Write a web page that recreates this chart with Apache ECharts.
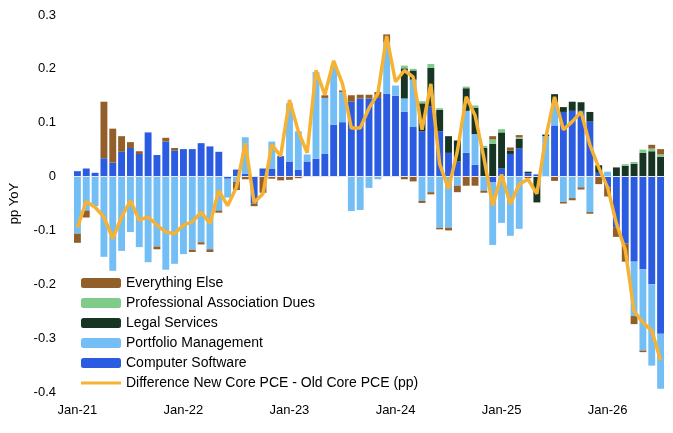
<!DOCTYPE html>
<html>
<head>
<meta charset="utf-8">
<script src="https://cdn.jsdelivr.net/npm/echarts@6/dist/echarts.min.js"></script>
<style>html,body{margin:0;padding:0;background:#fff}#chart{width:673px;height:433px}</style>
</head>
<body>
<div id="chart"></div>
<script>
// months Jan-21 .. Jul-26
var months = [];
var mn = ['Jan','Feb','Mar','Apr','May','Jun','Jul','Aug','Sep','Oct','Nov','Dec'];
for (var y = 21; y <= 26; y++) {
    for (var m = 0; m < 12; m++) {
        if (y === 26 && m > 6) break;
        months.push(mn[m] + '-' + y);
    }
}

var computerSoftware = [0.010,0.015,0.007,0.034,0.026,0.046,0.053,0.042,0.082,0.040,0.065,0.048,0.051,0.051,0.062,0.056,0.046,-0.004,0.013,0.005,-0.050,0.015,0.015,0.038,0.028,0.013,0.028,0.033,0.042,0.096,0.101,0.139,0.145,0.145,0.146,0.154,0.150,0.120,0.092,0.084,0.130,0.084,0.044,0.028,0.044,0.022,0,-0.011,0.015,0.042,0.052,0.006,0.004,0,0.095,0.120,0.122,0.122,0.102,0.007,-0.020,-0.094,-0.124,-0.158,-0.172,-0.200,-0.292];
var portfolioMgmt = [-0.106,-0.063,-0.055,-0.149,-0.175,-0.138,-0.103,-0.131,-0.159,-0.130,-0.173,-0.162,-0.144,-0.136,-0.122,-0.135,-0.063,-0.035,-0.010,0.068,0,0,0.050,0,0.108,0.071,0.013,0.161,0.104,0.110,0.056,-0.064,-0.062,-0.021,-0.005,0.095,0.019,0.025,0.088,-0.045,-0.029,-0.095,-0.095,-0.017,0.078,0.057,-0.026,-0.116,-0.086,-0.110,-0.097,0,0,0.075,0.041,-0.047,-0.040,-0.020,-0.066,0,0.009,0,0,-0.101,-0.151,-0.151,-0.102];
var legalServices = [0,0,0,0,0,0,0,0,0,0,0,0,0,0,0,0,0,0,0,0,0,0,0,0,0,0,0,0,0,0,0,0,0,0,0,0,0,0.056,0.017,0.052,0.072,0.040,0.031,0.039,0.042,0.049,0.053,0.061,0.067,0.006,0.018,0.003,-0.048,0.003,0.017,0.009,0.017,0.016,0.018,0.014,0,0.017,0.020,0.024,0.044,0.047,0.037];
var profDues = [0,0,0,0,0,0,0,0,0,0,0,0,0,0,0,0,0,0,0,0,0,0,0,0,0,0,0,0,0,0,0,0,0,0,0,0,0,0.005,0.003,0.004,0.007,0.003,0,0,0.003,0.004,0.004,0.008,0.006,0,0.003,0,0,0,0,0,0,0,0,0,0,0,0.003,0.003,0.006,0.005,0.004];
var everythingElse = [-0.017,-0.013,0,0.105,0.063,0.029,0.011,0.005,0,-0.005,0.007,0.005,0,-0.004,-0.004,-0.005,-0.004,0,-0.015,-0.005,-0.005,-0.030,-0.004,-0.007,-0.006,-0.003,0,0,0.005,0,0.003,0.012,0.007,0.007,0.011,0.015,0,-0.005,-0.009,-0.004,-0.004,-0.003,-0.005,-0.012,-0.017,-0.017,-0.004,0.006,0,0.006,0.004,-0.003,0,0,-0.008,-0.003,-0.004,-0.004,-0.003,-0.014,-0.017,-0.018,-0.034,-0.015,-0.003,0.007,0.010];
var diffLine = [-0.095,-0.046,-0.057,-0.075,-0.115,-0.075,-0.045,-0.081,-0.075,-0.090,-0.103,-0.106,-0.090,-0.084,-0.066,-0.087,-0.026,-0.054,-0.020,0.062,-0.048,-0.032,0.059,0.038,0.142,0.084,0.044,0.197,0.152,0.215,0.172,0.090,0.090,0.127,0.154,0.261,0.176,0.197,0.185,0.087,0.172,0.023,-0.023,0.047,0.148,0.114,0.035,-0.054,0.004,-0.051,-0.014,-0.005,-0.032,0.072,0.148,0.087,0.102,0.120,0.059,0.017,-0.020,-0.087,-0.136,-0.250,-0.271,-0.286,-0.341];

var chart = echarts.init(document.getElementById('chart'));
function bar(name, data, color) {
    return {name: name, type: 'bar', stack: 'pce', data: data, barCategoryGap: '22%',
        itemStyle: {color: color}};
}
var option = {
    animation: false,
    textStyle: {fontFamily: 'Liberation Sans, Arial, sans-serif'},
    grid: {left: 72, right: 8, top: 15, bottom: 41},
    legend: {
        orient: 'vertical', left: 76, top: 271, itemGap: 6, itemWidth: 40, itemHeight: 10,
        textStyle: {fontSize: 14, color: '#000'},
        data: ['Everything Else', 'Professional Association Dues', 'Legal Services',
            'Portfolio Management', 'Computer Software',
            {name: 'Difference New Core PCE - Old Core PCE (pp)', icon: 'path://M0,0 L40,0 L40,3 L0,3 Z'}]
    },
    xAxis: {
        type: 'category', data: months,
        axisLine: {onZero: false, show: false},
        axisTick: {show: false},
        axisLabel: {interval: 11, fontSize: 13, color: '#000', margin: 12}
    },
    yAxis: {
        type: 'value', min: -0.4, max: 0.3, interval: 0.1,
        name: 'pp YoY', nameLocation: 'middle', nameGap: 52, nameRotate: 90,
        nameTextStyle: {fontSize: 13, color: '#000'},
        splitLine: {show: false},
        axisLine: {show: false},
        axisLabel: {fontSize: 13, color: '#000', margin: 17,
            formatter: function (v) { return Math.abs(v) < 1e-9 ? '0' : v.toFixed(1); }}
    },
    series: [
        bar('Computer Software', computerSoftware, '#2B5BE0'),
        bar('Portfolio Management', portfolioMgmt, '#74BEF6'),
        bar('Legal Services', legalServices, '#173522'),
        bar('Professional Association Dues', profDues, '#7ECB8A'),
        bar('Everything Else', everythingElse, '#925E2A'),
        {name: 'Difference New Core PCE - Old Core PCE (pp)', type: 'line', data: diffLine,
            symbol: 'none', lineStyle: {color: '#F6B233', width: 3.5}, itemStyle: {color: '#F6B233'},
            z: 5,
            markLine: {silent: true, symbol: 'none', label: {show: false},
                lineStyle: {color: '#ece6ee', width: 1, type: 'solid'}, data: [{yAxis: 0}]}}
    ]
};
chart.setOption(option);
</script>
</body>
</html>
